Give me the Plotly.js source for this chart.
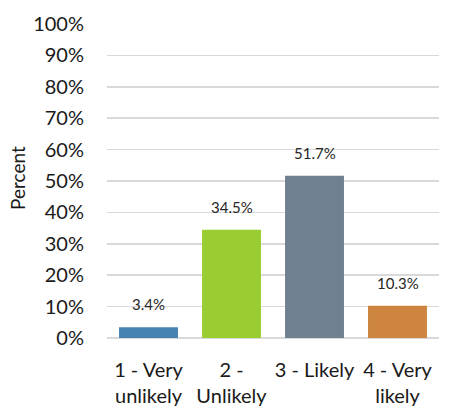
<!DOCTYPE html>
<html>
<head>
<meta charset="utf-8">
<script src="https://cdn.plot.ly/plotly-3.0.1.min.js"></script>
<style>html,body{margin:0;padding:0;background:#fff}#chart{width:462px;height:413px}</style>
</head>
<body>
<div id="chart"></div>
<script>
const categories = ["1 - Very<br>unlikely", "2 -<br>Unlikely", "3 - Likely", "4 - Very<br>likely"];
const values = [3.4, 34.5, 51.7, 10.3];
const labels = ["3.4%", "34.5%", "51.7%", "10.3%"];
const colors = ["#4682b4", "#9acd32", "#708090", "#cd853f"];
const yTickVals = [0, 10, 20, 30, 40, 50, 60, 70, 80, 90, 100];
const yTickText = ["0%", "10%", "20%", "30%", "40%", "50%", "60%", "70%", "80%", "90%", "100%"];
const yTitle = "Percent";

const font = "Lato, 'Open Sans', sans-serif";

const trace = {
  type: "bar",
  x: categories,
  y: values,
  marker: {color: colors},
  hoverinfo: "none"
};

const annotations = categories.map((c, i) => ({
  x: c, y: values[i], xref: "x", yref: "y",
  text: labels[i], showarrow: false,
  yanchor: "bottom", yshift: 12,
  font: {family: font, size: 15, color: "#262626"}
}));

annotations.push({
  xref: "paper", yref: "paper", x: -0.268, y: 0.51,
  xanchor: "center", yanchor: "middle",
  text: yTitle, textangle: -90, showarrow: false,
  font: {family: font, size: 19, color: "#1a1a1a"}
});

const layout = {
  width: 462, height: 413,
  margin: {l: 107, r: 23, t: 24, b: 75, pad: 0},
  paper_bgcolor: "#fff", plot_bgcolor: "#fff",
  bargap: 0.29,
  showlegend: false,
  font: {family: font, color: "#1a1a1a"},
  xaxis: {
    tickfont: {family: font, size: 20, color: "#1a1a1a"},
    showline: false, showgrid: false,
    ticks: "outside", ticklen: 14, tickcolor: "rgba(0,0,0,0)",
    fixedrange: true
  },
  yaxis: {
    range: [0, 100],
    tickvals: yTickVals, ticktext: yTickText,
    tickfont: {family: font, size: 20, color: "#1a1a1a"},
    showgrid: true, gridcolor: "#d9d9d9", gridwidth: 1.5,
    zeroline: true, zerolinecolor: "#d9d9d9", zerolinewidth: 1.5,
    showline: false, ticks: "outside", ticklen: 18, tickcolor: "rgba(0,0,0,0)",
    fixedrange: true
  },
  annotations: annotations
};

Plotly.newPlot("chart", [trace], layout, {displayModeBar: false, staticPlot: true});
</script>
</body>
</html>
